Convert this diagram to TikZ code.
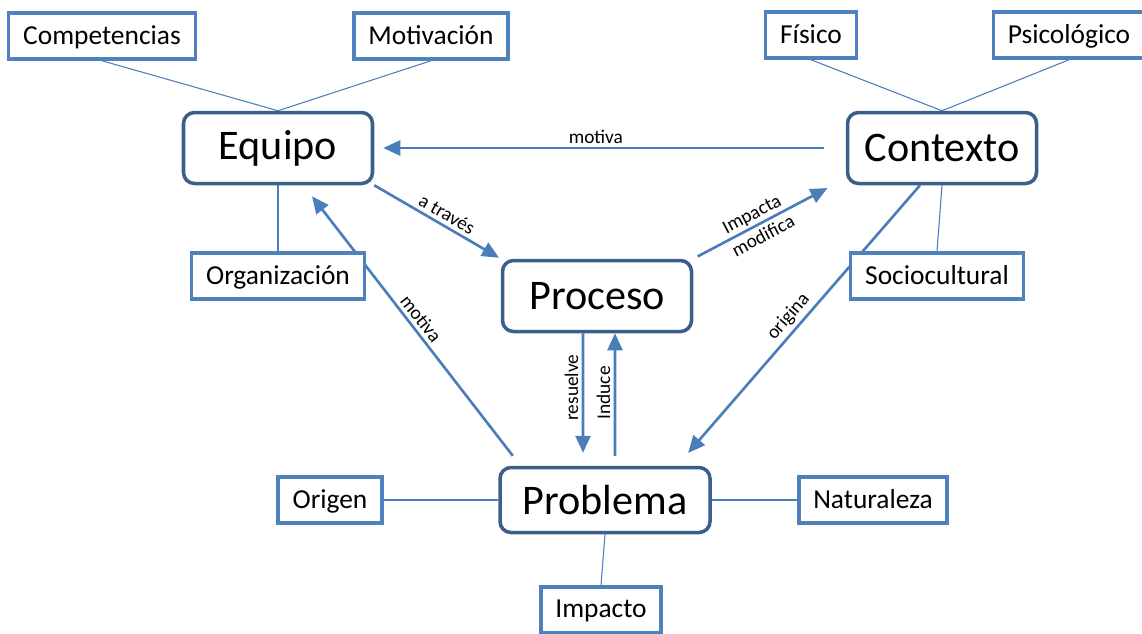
\documentclass[tikz,border=0pt]{standalone}
\usepackage{fontspec}
\setmainfont{Carlito}
\usetikzlibrary{arrows.meta,backgrounds}
\definecolor{boxblue}{HTML}{4F81BD}
\definecolor{darkblue}{HTML}{3A5F8B}
\definecolor{lineblue}{HTML}{4A7EBB}
\begin{document}
\begin{tikzpicture}[
  item/.style={draw=boxblue, line width=2pt, fill=white, inner xsep=0.29cm, minimum height=0.92cm, text depth=0.25ex, font=\fontsize{15.6}{18}\selectfont},
  topic/.style={draw=darkblue, line width=2pt, rounded corners=0.22cm, fill=white, minimum width=3.78cm, minimum height=1.42cm, font=\fontsize{24}{28}\selectfont},
  link/.style={lineblue, line width=0.6pt},
  arr/.style={lineblue, line width=1.5pt, -{Triangle[length=0.34cm,width=0.3cm]}},
  lbl/.style={text=black, font=\fontsize{11}{12}\selectfont, inner sep=2pt}]
\useasboundingbox (0,0) rectangle (22.84,-12.66);
\node [item] (comp) at (2.04,-0.72) {Competencias};
\node [item] (motv) at (8.62,-0.72) {Motivación};
\node [item] (fis) at (16.22,-0.70) {Físico};
\node [item] (psi) at (21.38,-0.70) {Psicológico};
\node [topic] (eq) at (5.56,-2.96) {Equipo};
\node [topic] (ctx) at (18.84,-2.96) {Contexto};
\node [item] (org) at (5.56,-5.52) {Organización};
\node [topic] (pr) at (11.94,-5.92) {Proceso};
\node [item] (soc) at (18.74,-5.52) {Sociocultural};
\node [item] (ori) at (6.60,-10.00) {Origen};
\node [topic, minimum width=4.2cm, minimum height=1.3cm] (pb) at (12.10,-10.00) {Problema};
\node [item] (nat) at (17.46,-10.00) {Naturaleza};
\node [item] (imp) at (12.02,-12.20) {Impacto};
%
\begin{pgfonlayer}{background}
\draw [link] (comp.south) edge (eq.north);
\draw [link] (motv.south) edge (eq.north);
\draw [link] (fis.south) edge (ctx.north);
\draw [link] (psi.south) edge (ctx.north);
\draw [link] (eq.south) edge (org.north);
\draw [link] (ctx.south) edge (soc.north);
\draw [link] (ori.east) edge (pb.west);
\draw [link] (pb.east) edge (nat.west);
\draw [link] (pb.south) edge (imp.north);
%
\draw [arr, shorten <=0.44cm, shorten >=0.18cm] (ctx.west) -- node [lbl, above, pos=0.53] {motiva} (eq.east);
\draw [arr, shorten >=0.04cm] (eq.south east) -- node [lbl, above, sloped, pos=0.53] {a través} (pr.north west);
\draw [arr, shorten <=0.1cm, shorten >=0.12cm] (pr.north east) -- node [lbl, sloped, pos=0.46, align=center, font=\fontsize{11}{14}\selectfont] {Impacta\\modifica} ([xshift=-0.26cm]ctx.south west);
\draw [arr, shorten >=0.34cm] ([xshift=-0.44cm]ctx.south) -- node [lbl, above, sloped, pos=0.5] {origina} ([xshift=1.44cm]pb.north);
\draw [arr, shorten <=0.25cm, shorten >=0.28cm] ([xshift=-1.69cm]pb.north) -- node [lbl, above, sloped, pos=0.5] {motiva} ([xshift=0.51cm]eq.south);
\draw [arr, shorten >=0.26cm] ([xshift=-0.28cm]pr.south) -- node [lbl, anchor=south, rotate=90, pos=0.41] {resuelve} ([xshift=-0.44cm]pb.north);
\draw [arr, shorten <=0.2cm] ([xshift=0.2cm]pb.north) -- node [lbl, anchor=south, rotate=90, pos=0.55] {Induce} ([xshift=0.36cm]pr.south);
\end{pgfonlayer}
\end{tikzpicture}
\end{document}
